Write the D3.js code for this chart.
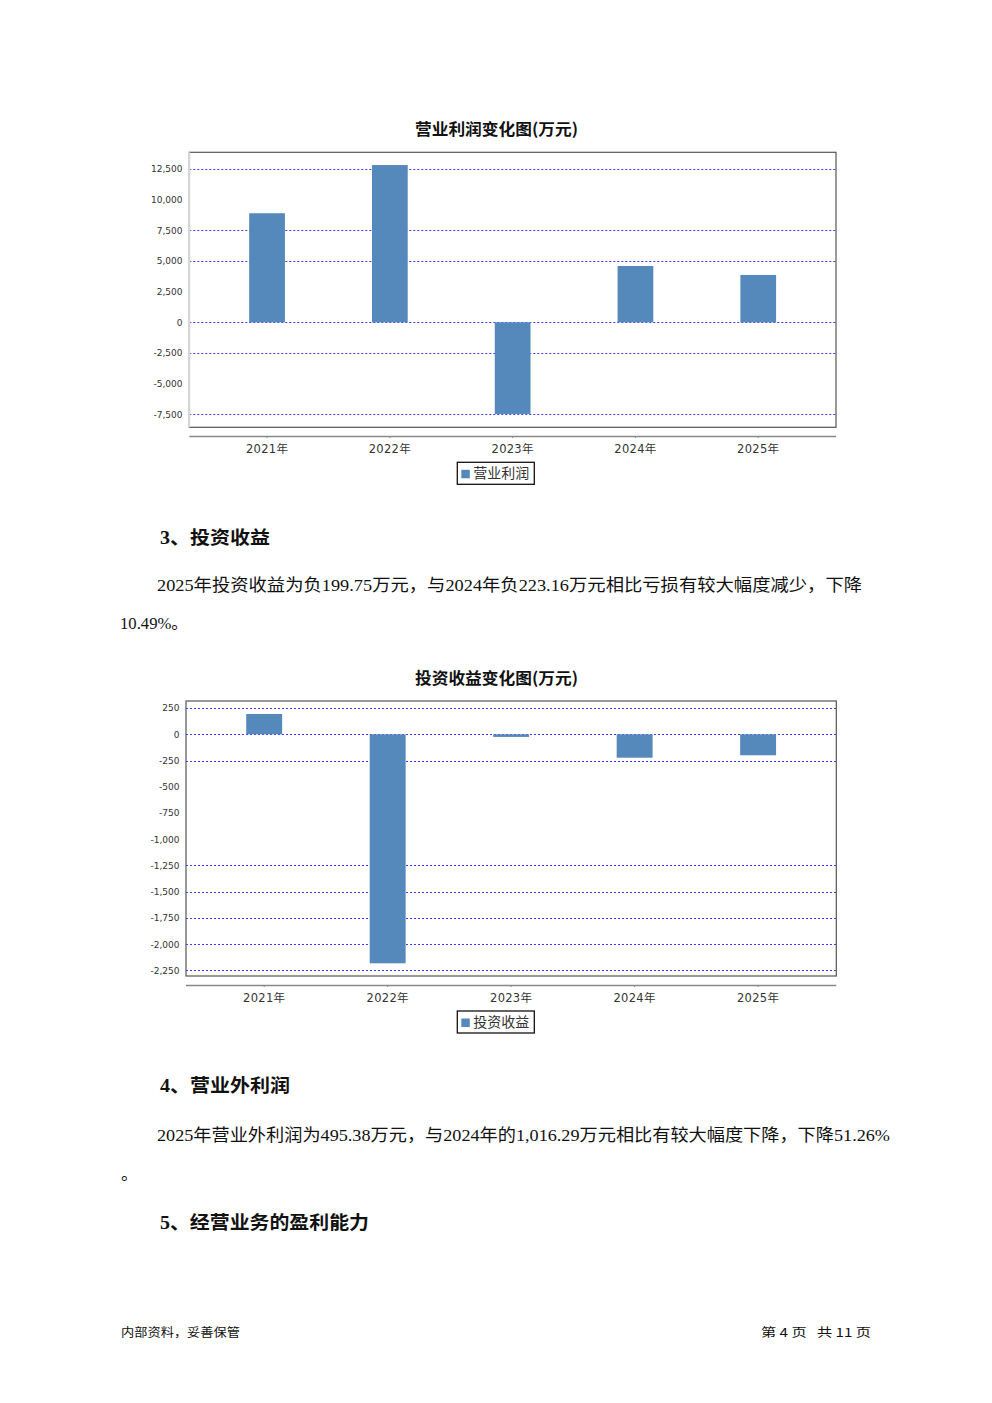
<!DOCTYPE html>
<html><head><meta charset="utf-8">
<script src="https://cdn.jsdelivr.net/npm/d3@7/dist/d3.min.js"></script>
<style>
html,body{margin:0;padding:0;background:#fff;}
svg{display:block;}
</style></head>
<body>
<script>
// ---- data ----
const years = ["2021年", "2022年", "2023年", "2024年", "2025年"];
const opProfit = [8890, 12820, -7470, 4590, 3860];
const opTicks = [12500, 10000, 7500, 5000, 2500, 0, -2500, -5000, -7500];
const opGrid = [12500, 7500, 5000, 0, -2500, -7500];
const invIncome = [194, -2183, -25, -223.16, -199.75];
const invTicks = [250, 0, -250, -500, -750, -1000, -1250, -1500, -1750, -2000, -2250];
const invGrid = [250, 0, -250, -1250, -1500, -1750, -2000, -2250];

const W = 992, H = 1403;
const svg = d3.select("body").append("svg").attr("width", W).attr("height", H);
svg.append("rect").attr("width", W).attr("height", H).attr("fill", "#fff");

const BAR = "#5689bb";
const CJK = "'Noto Sans CJK SC', 'DejaVu Sans', sans-serif";
const loc = d3.formatLocale({ decimal: ".", thousands: ",", grouping: [3], currency: ["", ""], minus: "-" });
const fmt = loc.format(",");

function drawChart(cfg) {
  const g = svg.append("g");
  const x = d3.scaleBand().domain(cfg.cats).range([cfg.x0, cfg.x1])
    .paddingInner(0.709).paddingOuter(0.4877);
  const y = d3.scaleLinear().domain(cfg.domain).range([cfg.y1, cfg.y0]);

  // title
  g.append("text").attr("x", 496.5).attr("y", cfg.titleY)
    .attr("text-anchor", "middle").attr("font-family", CJK)
    .attr("font-weight", "bold").attr("font-size", 16).attr("fill", "#111")
    .attr("textLength", 163).attr("lengthAdjust", "spacingAndGlyphs")
    .text(cfg.title);

  // gridlines
  g.selectAll(".grid").data(cfg.grid).join("line")
    .attr("x1", cfg.x0).attr("x2", cfg.x1)
    .attr("y1", d => Math.round(y(d)) + 0.5).attr("y2", d => Math.round(y(d)) + 0.5)
    .attr("stroke", "#3a3aff").attr("stroke-width", 1).attr("stroke-dasharray", "2,2");

  // bars
  g.selectAll(".bar").data(cfg.values).join("rect")
    .attr("x", (d, i) => x(cfg.cats[i]))
    .attr("width", x.bandwidth())
    .attr("y", d => y(Math.max(0, d)))
    .attr("height", d => Math.abs(y(d) - y(0)))
    .attr("fill", BAR);

  // plot border
  g.append("rect").attr("x", cfg.x0).attr("y", cfg.y0)
    .attr("width", cfg.x1 - cfg.x0).attr("height", cfg.y1 - cfg.y0)
    .attr("fill", "none").attr("stroke", "#555").attr("stroke-width", 1.2);
  if (cfg.lightLeft) {
    g.append("line").attr("x1", cfg.x0).attr("x2", cfg.x0).attr("y1", cfg.y0).attr("y2", cfg.y1)
      .attr("stroke", "#d8d8d8").attr("stroke-width", 2);
  }

  // y axis labels
  const ya = d3.axisLeft(y).tickValues(cfg.ticks).tickFormat(fmt).tickSize(0).tickPadding(0);
  const yg = g.append("g").attr("transform", `translate(${cfg.yLabelX},0)`).call(ya);
  yg.select(".domain").remove();
  yg.selectAll("text").attr("font-family", "'DejaVu Sans', sans-serif").attr("font-size", 9).attr("fill", "#333");

  // x axis
  const xa = d3.axisBottom(x).tickSize(2).tickPadding(7);
  const xg = g.append("g").attr("transform", `translate(0,${cfg.axisY})`).call(xa);
  xg.select(".domain").attr("d", `M${cfg.x0},0.5H${cfg.x1}`).attr("stroke", "#888").attr("stroke-width", 1.5);
  xg.selectAll(".tick line").attr("stroke", "#888");
  xg.selectAll("text").attr("font-family", "'DejaVu Sans', " + CJK).attr("font-size", 11.5)
    .attr("fill", "#333").attr("letter-spacing", 0.3);

  // legend
  const lg = g.append("g").attr("transform", `translate(${cfg.legX},${cfg.legY})`);
  lg.append("rect").attr("x", 0).attr("y", 0).attr("width", 77).attr("height", 22)
    .attr("fill", "#fff").attr("stroke", "#111").attr("stroke-width", 1.3);
  lg.append("rect").attr("x", 4).attr("y", 7.5).attr("width", 8.5).attr("height", 8.5).attr("fill", BAR);
  lg.append("text").attr("x", 16).attr("y", 16).attr("font-family", CJK)
    .attr("font-size", 14).attr("fill", "#333").text(cfg.legend);
}

drawChart({
  title: "营业利润变化图(万元)", titleY: 135,
  cats: years, values: opProfit, ticks: opTicks, grid: opGrid,
  domain: [-8559, 13858],
  x0: 189.3, x1: 836, y0: 152.3, y1: 427.3, axisY: 436,
  yLabelX: 182.5, legX: 457.3, legY: 462.3, legend: "营业利润", lightLeft: true
});
drawChart({
  title: "投资收益变化图(万元)", titleY: 684,
  cats: years, values: invIncome, ticks: invTicks, grid: invGrid,
  domain: [-2304, 317.5],
  x0: 186, x1: 836.3, y0: 701, y1: 976, axisY: 985,
  yLabelX: 179.5, legX: 457.3, legY: 1011, legend: "投资收益", lightLeft: false
});

// ---- text ----
const SERIF = "'Liberation Serif', 'Noto Sans CJK SC', serif";
function txt(s, x, y, size, opts = {}) {
  const t = svg.append("text").attr("x", x).attr("y", y)
    .attr("font-family", opts.family || SERIF).attr("font-size", size)
    .attr("fill", opts.fill || "#111").attr("xml:space", "preserve").text(s);
  if (opts.bold) t.attr("font-weight", "bold");
  if (opts.anchor) t.attr("text-anchor", opts.anchor);
  if (opts.len) t.attr("textLength", opts.len).attr("lengthAdjust", "spacingAndGlyphs");
  return t;
}
txt("3、投资收益", 160, 544, 18.5, { bold: true, len: 110 });
txt("2025年投资收益为负199.75万元，与2024年负223.16万元相比亏损有较大幅度减少，下降", 157, 591, 17, { len: 705 });
txt("10.49%。", 120, 629, 17, { len: 68 });
txt("4、营业外利润", 160, 1092, 18.5, { bold: true, len: 130 });
txt("2025年营业外利润为495.38万元，与2024年的1,016.29万元相比有较大幅度下降，下降51.26%", 157, 1141, 17, { len: 733 });
txt("。", 121, 1180, 17);
txt("5、经营业务的盈利能力", 160, 1229, 18.5, { bold: true, len: 209 });
txt("内部资料，妥善保管", 121, 1337, 12, { family: CJK, len: 119 });
txt("第\u00a04\u00a0页\u00a0\u00a0\u00a0共\u00a011\u00a0页", 761, 1337, 12, { family: CJK, len: 110 });
</script>
</body></html>
